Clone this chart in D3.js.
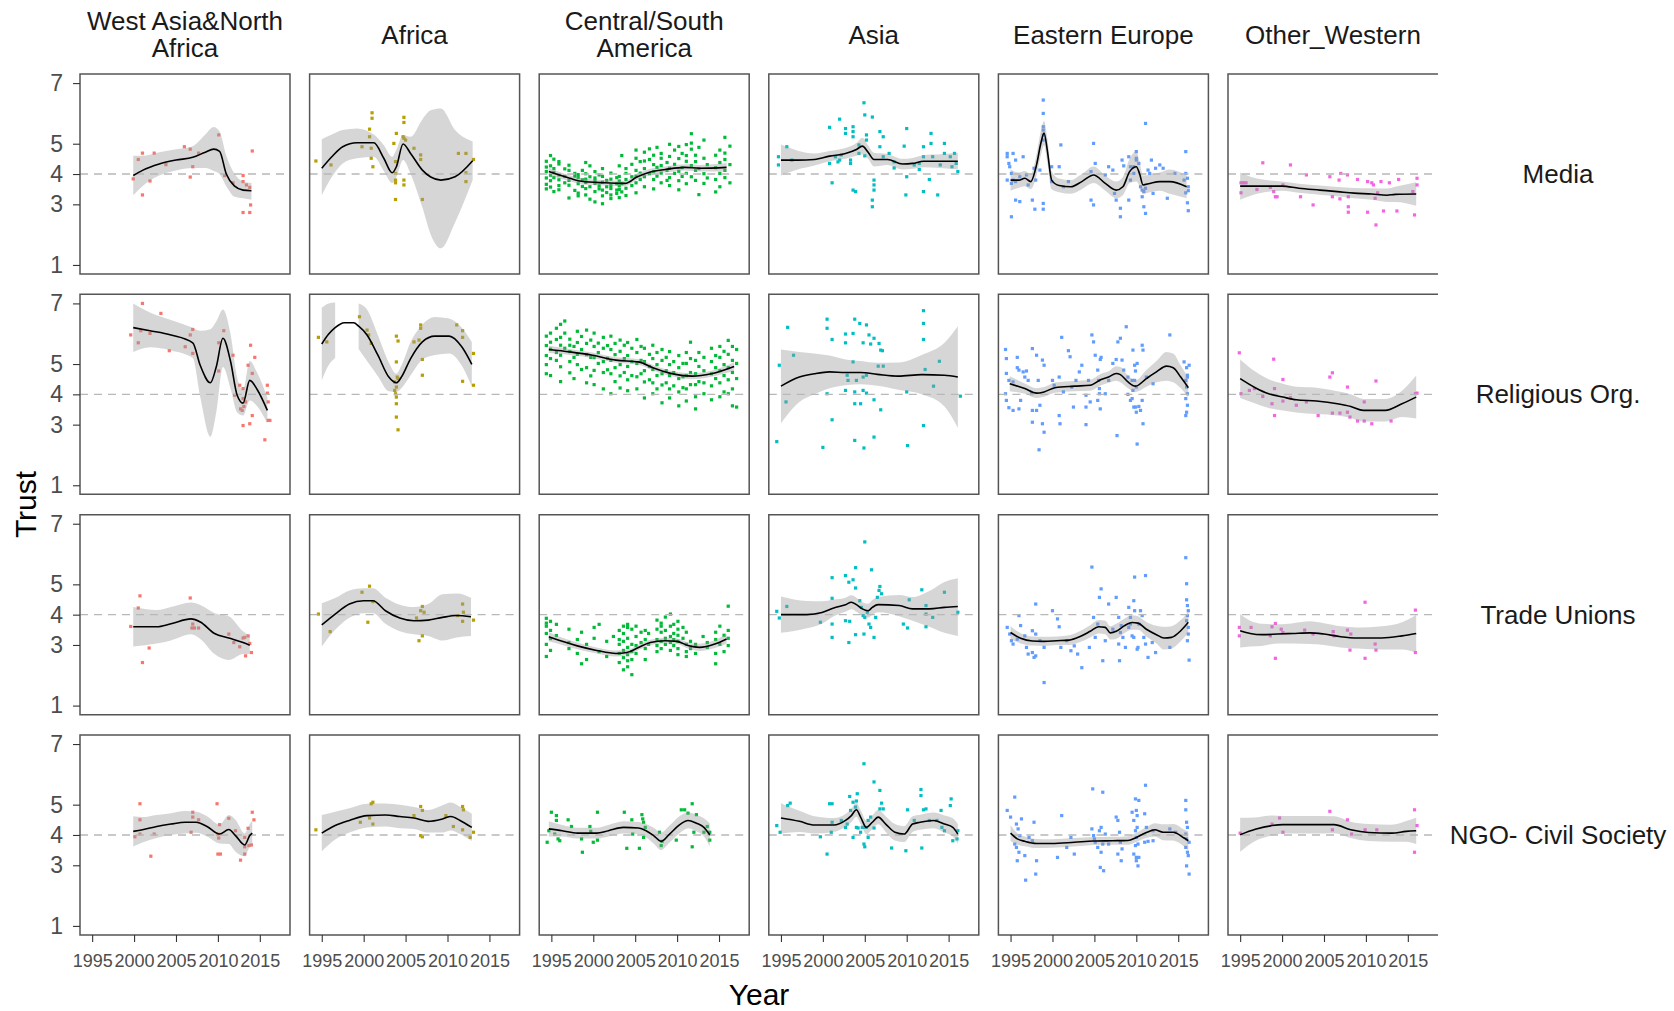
<!DOCTYPE html>
<html>
<head>
<meta charset="utf-8">
<script src="https://cdn.jsdelivr.net/npm/d3@7"></script>
<style>
  body { margin: 0; background: #fff; }
  svg { display: block; font-family: "Liberation Sans", Arial, sans-serif; }
</style>
</head>
<body>
<svg id="chart" width="1674" height="1011"></svg>
<script>
const regions = ['West Asia&North\nAfrica', 'Africa', 'Central/South\nAmerica', 'Asia', 'Eastern Europe', 'Other_Western'];
const institutions = ['Media', 'Religious Org.', 'Trade Unions', 'NGO- Civil Society'];
const yearTicks = [1995, 2000, 2005, 2010, 2015];
const trustTicks = [1, 3, 4, 5, 7];
const regionColors = ['#F8766D', '#B79F00', '#00BA38', '#00BFC4', '#619CFF', '#F564E3'];

// points: each row is [year, trust, trust, ...]; one list per region
const mediaPts = [
  [[1999.9, 3.84], [2000.5, 4.48], [2001, 4.69, 3.31], [2001.9, 3.77], [2002.4, 4.69], [2003.8, 4.31], [2006, 4.9], [2006.7, 4.82, 3.9], [2007, 4.24], [2007.7, 4.69], [2010.1, 5.29], [2010.8, 3.95], [2011.8, 3.71], [2013, 3.95, 3.75, 2.73], [2013.4, 3.64], [2013.8, 2.73, 3.56], [2013.9, 2.98], [2014.1, 4.76]],
  [[1994.3, 4.43], [1996.1, 4.3], [1999.8, 4.9], [2000.7, 5.48, 5.23], [2000.9, 4.85, 4.52], [2001, 6.02, 5.84], [2001.1, 4.24], [2003.6, 5.01], [2003.8, 4.41, 4.02, 3.8, 3.71, 3.16], [2003.9, 5.34], [2004.7, 5.23], [2004.8, 5.87, 5.7, 5.18, 3.8, 3.64], [2005, 5.12], [2006, 4.85], [2006.8, 4.63, 4.48], [2007, 3.16], [2011.3, 4.68], [2012.2, 4.68, 4.04, 3.75], [2013.1, 4.48]],
  [[1994.4, 4.42, 4.08, 3.87, 3.66, 4.23, 3.51], [1994.9, 4.61, 4.27, 3.96, 3.78, 3.57], [1995.3, 4.18, 4.49, 3.88, 3.42, 4.05], [1995.9, 4.33, 3.97, 3.81, 3.62, 4.41, 3.48], [1996.6, 3.92, 4.17, 3.71], [1997.1, 4.12, 3.79, 3.21, 4.29, 3.63], [1997.8, 3.93, 3.46, 4.02], [1998.2, 3.68, 3.98, 3.37, 3.88, 3.28], [1998.7, 3.59, 4.12, 3.81], [1999.1, 4.38, 3.83, 3.52, 3.31, 4.01, 3.72], [1999.6, 3.91, 3.58, 4.27, 3.17], [2000.2, 4.08, 3.69, 3.42, 3.87, 3.08, 3.79], [2000.7, 3.51, 3.97, 3.61], [2001.1, 3.92, 3.28, 3.73, 4.18, 3.47, 3.02], [2001.6, 3.79, 3.39, 3.58], [2002.1, 3.62, 4.03, 3.31, 3.83, 3.52, 3.19], [2002.8, 3.88, 3.47, 3.68, 3.36], [2003.1, 4.27, 3.61, 3.22, 3.92, 3.49, 3.77], [2003.4, 4.61, 3.68, 3.41], [2003.9, 4.02, 3.53, 3.82, 4.18, 3.29], [2004.6, 3.91, 4.32, 3.62], [2005.1, 4.52, 4.12, 3.71, 3.38, 4.79, 3.93], [2005.6, 4.41, 3.82, 4.03], [2006.1, 4.72, 4.18, 3.91, 3.58, 4.43], [2006.7, 4.48, 4.01, 4.83], [2007.2, 4.31, 3.82, 4.62, 4.08, 3.51], [2007.6, 4.88, 4.22, 3.93], [2008.1, 4.52, 4.03, 3.71, 4.68, 4.28], [2008.8, 4.38, 3.79, 4.12], [2009.1, 4.58, 4.19, 3.88, 4.98, 3.62], [2009.7, 4.32, 4.02, 4.79], [2010.2, 4.51, 4.09, 3.78, 4.91, 3.48], [2010.6, 4.68, 4.21, 3.92], [2011.1, 4.42, 4.97, 4.02, 3.68, 4.61], [2011.7, 5.33, 4.82, 4.28, 3.91, 5.02], [2012.2, 4.62, 4.12, 3.79, 4.41], [2012.6, 4.88, 4.18, 3.32], [2013.2, 4.52, 4.01, 3.69, 5.12], [2013.6, 4.31, 3.87], [2014.6, 4.62, 4.21, 3.82, 3.41], [2015.1, 4.79, 4.38, 4.02, 3.58], [2015.7, 5.21, 4.69, 4.12, 3.88, 4.48], [2016.3, 4.92, 4.31, 3.71]],
  [[1994.7, 4.57, 4.3], [1995.7, 4.9], [1996.3, 4.46], [2000.8, 5.54, 4.35], [2001.1, 3.71], [2001.5, 4.57], [2001.8, 4.4], [2002, 5.81, 4.46], [2002.2, 4.63], [2002.7, 5.5, 5.34], [2003.3, 4.46, 4.35], [2003.6, 5.56, 5.4, 5.23, 3.47], [2003.9, 3.42], [2004.3, 4.96, 4.68], [2004.9, 6.35], [2005, 5.95, 4.6], [2005.2, 5.29, 5.12], [2005.9, 5.88, 3.14, 2.92], [2006.1, 3.8, 3.64, 3.47], [2006.8, 5.4, 4.9], [2007.2, 5.23, 4.57], [2007.9, 4.68], [2008.5, 4.4, 4.2], [2009.7, 4.92], [2009.9, 3.31], [2010, 5.5, 3.91], [2010.9, 4.3], [2011.5, 4.35, 4.15], [2012, 4.9, 4.57, 3.42], [2012.7, 3.82], [2012.9, 5.34, 5.01], [2013.1, 4.57], [2013.7, 3.31], [2014, 4.3], [2014.5, 5.01, 4.68], [2015.2, 4.57], [2015.4, 4.24], [2015.7, 4.68], [2015.9, 4.35], [2016.1, 4.08]],
  [[1994.6, 4.68, 3.8, 4.57], [1994.8, 4.35], [1994.9, 4.24], [1995.1, 4.02, 3.69, 2.59], [1995.3, 4.68, 3.8], [1995.6, 4.46, 3.75, 3.14], [1996.1, 3.91, 3.09], [1996.5, 4.57], [1996.9, 3.97], [1997.1, 3.64], [1997.6, 3.14], [1997.8, 4.19], [1997.9, 2.84], [1998, 3.8], [1998.5, 4.13], [1998.9, 6.44, 6.0, 5.56, 5.45, 5.29, 5.12, 3.03, 2.84], [1999.9, 4.24, 3.75], [2000.8, 4.24], [2001, 4.96], [2001.3, 3.58], [2001.9, 3.75], [2004.6, 4.08, 3.14], [2004.9, 5.01, 2.98], [2005.1, 4.35], [2006.3, 3.97], [2006.7, 4.24], [2007.2, 4.13], [2007.4, 3.36], [2007.6, 3.14], [2008.1, 2.59, 2.87], [2008.3, 4.46], [2008.5, 4.27], [2009.1, 4.57, 3.14], [2009.3, 4.24, 3.8], [2009.7, 4.02, 4.24], [2010, 4.52, 4.74, 4.46], [2010.3, 4.35], [2010.5, 3.58], [2010.7, 3.47, 3.25], [2010.9, 3.42, 2.92], [2011.1, 3.53, 2.7, 5.67], [2011.4, 4.13], [2011.6, 4.02], [2011.8, 4.46], [2012, 3.36], [2012.3, 4.19], [2012.8, 4.3], [2013.2, 4.19], [2013.7, 3.2], [2014.6, 4.02], [2015.7, 3.8], [2015.9, 4.74, 4.02, 3.38], [2016.1, 3.86, 3.05], [2016.2, 3.58, 2.79, 3.45]],
  [[1995.1, 3.71, 3.38], [1995.4, 3.71], [1995.7, 3.71], [1997, 3.49], [1997.7, 4.37], [1998.6, 3.56], [1999, 3.42], [1999.2, 3.25], [1999.4, 3.25], [2000.1, 3.64], [2001, 4.3], [2002.2, 3.25], [2002.9, 3.97], [2003.7, 2.98], [2005.7, 3.91], [2006, 3.25], [2006.8, 3.8], [2006.9, 3.18], [2007, 4.02], [2007.8, 3.97], [2007.9, 3.25, 2.92, 2.74], [2009, 3.82], [2010.2, 3.75, 2.74], [2010.7, 3.71], [2010.9, 3.64], [2011.1, 3.2], [2011.2, 2.32], [2011.4, 3.38], [2011.8, 3.75], [2012.1, 2.78], [2012.8, 3.71], [2013.7, 2.78], [2013.9, 3.82], [2015.6, 3.42], [2015.8, 2.65], [2016.1, 3.86, 3.64]]
];

const religionPts = [
  [[1999.6, 5.96], [2000.5, 5.7], [2000.8, 6.1], [2001, 7.0], [2001.9, 6.01], [2003.2, 6.67], [2004.2, 5.44], [2006.1, 5.57], [2006.7, 5.96], [2007, 6.14, 5.35], [2010.1, 5.7, 4.77], [2010.7, 6.1], [2011.8, 5.29], [2012, 3.97], [2012.6, 4.3], [2013, 4.19, 3.86, 2.97], [2012.7, 3.52], [2012.9, 3.47], [2013.1, 3.6], [2013.3, 3.75], [2013.6, 4.96], [2013.8, 3.03], [2013.9, 5.62], [2014.1, 4.69, 3.3], [2014.4, 5.22], [2015.6, 2.5], [2015.9, 4.04, 4.3], [2016, 3.75, 3.14], [2016.2, 3.14]],
  [[1994.6, 5.88], [1995.6, 5.73], [1999.5, 6.56], [2000.4, 6.12], [2000.6, 5.96], [2000.9, 5.68], [2003.7, 4.41, 4.13], [2003.8, 4.02], [2003.9, 5.92, 5.07, 4.24, 3.91, 3.69, 3.25], [2004, 4.57], [2004.1, 5.76, 4.52, 2.83], [2006, 5.73], [2006.6, 5.79], [2006.8, 6.29, 6.18], [2007, 5.15, 4.63], [2011.1, 6.29], [2011.8, 6.1, 5.88, 4.43], [2013.1, 5.35, 4.3]],
  [[1994.4, 5.92, 5.61, 5.28, 4.98, 4.68], [1994.9, 6.02, 5.72, 5.49, 5.18, 4.62], [1995.6, 6.18, 5.81, 5.38, 5.12], [1996.1, 6.31, 5.88, 5.62, 5.29, 4.91, 4.42], [1996.6, 6.42, 6.02, 5.52], [1997.2, 5.82, 5.41, 5.08, 4.71, 5.62], [1997.7, 5.58, 5.22, 4.52], [1998.1, 6.08, 5.71, 5.32, 4.98], [1998.6, 5.91, 5.48, 4.82], [1999.2, 6.12, 5.68, 5.31, 4.88, 4.38], [1999.7, 5.79, 5.22, 4.61], [2000.1, 6.02, 5.58, 5.21, 4.79, 4.32], [2000.6, 5.69, 5.38, 5.02], [2001.2, 5.88, 5.52, 5.08, 4.72, 4.18], [2001.7, 5.61, 5.19, 4.81], [2002.1, 5.92, 5.48, 5.12, 4.68, 4.02], [2002.6, 5.68, 5.31, 4.88, 4.42], [2003.2, 5.79, 5.42, 4.98, 4.61, 4.21], [2003.7, 5.62, 5.18, 4.72], [2004.1, 5.71, 5.28, 4.92, 4.48, 4.12], [2004.6, 5.52, 5.08, 4.62], [2005.2, 5.81, 5.38, 5.02, 4.58, 4.18], [2005.7, 5.58, 5.12, 4.68], [2006.1, 5.52, 5.08, 4.78, 4.41, 3.88], [2006.7, 5.32, 4.92, 4.48], [2007.1, 5.62, 5.18, 4.82, 4.38, 4.02], [2007.6, 5.38, 4.98, 4.62, 4.18], [2008.2, 5.48, 5.12, 4.68, 4.31, 3.72], [2008.7, 5.22, 4.78, 4.38], [2009.1, 5.41, 4.98, 4.62, 4.18, 3.88], [2009.6, 5.08, 4.72, 4.28], [2010.2, 5.28, 4.88, 4.52, 4.08, 3.62], [2010.7, 5.02, 4.58, 4.22], [2011.1, 5.38, 5.02, 4.62, 4.18, 3.78], [2011.6, 5.72, 5.18, 4.72, 4.32], [2012.2, 5.12, 4.68, 4.32, 3.92, 3.52], [2012.6, 5.38, 4.92, 4.42], [2013.2, 5.22, 4.78, 4.38, 4.02], [2014.1, 5.52, 5.08, 4.68, 4.28, 3.82], [2014.6, 5.28, 4.88, 4.52], [2015.1, 5.58, 5.22, 4.78, 4.38, 3.92], [2015.6, 5.42, 4.98, 4.62, 4.08], [2016.1, 5.78, 5.32, 4.88, 4.48, 4.02], [2016.6, 5.58, 5.12, 4.72, 4.18, 3.62], [2017.1, 5.48, 5.02, 4.52, 3.58]],
  [[1994.5, 2.44], [1994.8, 4.96], [1995.6, 3.75], [1995.8, 6.21], [1996.5, 5.29], [2000, 2.25], [2000.5, 6.48, 6.18, 4.02], [2001.1, 5.81, 3.16], [2002.7, 5.7, 5.99, 4.13], [2002.9, 4.63], [2003, 4.46], [2003.6, 6.01, 5.07], [2003.8, 6.48, 4.08, 3.69, 2.48], [2004, 4.46], [2004.4, 6.34], [2004.5, 3.69], [2004.8, 5.7, 4.57, 4.13], [2004.9, 2.23], [2005.2, 6.29, 4.63, 4.04], [2005.5, 5.96], [2005.7, 5.66], [2006.1, 5.85, 3.82, 2.59], [2006.6, 4.93], [2006.7, 5.68], [2006.9, 5.46, 3.49], [2007.1, 5.44], [2007.2, 4.93], [2010, 4.08], [2010.1, 2.31], [2012, 6.76, 6.34, 5.81, 2.97], [2012.2, 4.82], [2013.2, 4.27], [2013.9, 5.09], [2016.4, 3.94]],
  [[1994.4, 5.48, 4.02], [1994.5, 5.18, 4.69, 3.8], [1994.8, 4.46, 3.56], [1995.3, 4.41, 3.47], [1995.8, 5.22, 4.88], [1996, 4.8, 3.52], [1996.2, 3.8], [1996.5, 4.74], [1996.7, 4.57], [1996.9, 4.77], [1997.1, 4.46], [1997.5, 4.02], [1997.6, 5.51, 3.47, 3.08], [1998.1, 5.29, 3.47], [1998.3, 4.46], [1998.4, 2.17], [1998.5, 3.64], [1998.8, 5.13, 3.03], [1999, 4.96, 2.75], [2000, 4.46], [2000.2, 4.3], [2000.8, 4.57, 3.3], [2000.9, 3.03], [2001.1, 5.88], [2001.3, 4.08], [2001.9, 5.44], [2002.1, 5.24], [2002.3, 4.24], [2002.5, 3.58], [2002.8, 4.46], [2003.2, 4.74], [2003.5, 4.96], [2004, 3.97, 3.58, 3.0], [2004.3, 4.46], [2004.5, 3.75], [2004.7, 5.96], [2004.9, 5.73], [2005.1, 5.29], [2005.4, 4.8, 3.8], [2005.5, 4.46], [2005.6, 4.19, 4.02], [2005.7, 5.15, 3.52], [2005.8, 5.22], [2006.3, 4.02], [2006.7, 4.46], [2007.2, 5.02], [2007.6, 5.15], [2007.7, 2.64], [2007.8, 5.73], [2008.1, 5.85], [2008.3, 5.13], [2008.5, 4.8], [2008.8, 6.23], [2009, 4.57, 4.0], [2009.3, 3.8], [2009.5, 4.46, 3.86], [2009.6, 4.13, 5.46], [2009.7, 3.58], [2009.8, 4.46, 4.96], [2009.9, 4.77, 3.58], [2010, 3.41, 4.24], [2010.1, 5.02, 2.36], [2010.3, 3.6], [2010.5, 3.47], [2010.7, 3.8, 5.62], [2010.8, 5.46, 3.03], [2011.2, 4.57], [2012, 4.35], [2014, 5.96], [2015.7, 5.07], [2015.9, 4.46, 3.86, 3.3], [2016, 4.88, 4.24, 3.41], [2016.1, 4.63, 4.02, 3.64, 4.57], [2016.3, 4.96]],
  [[1994.9, 5.37], [1995.1, 4.02], [1996.1, 4.13], [1996.7, 4.19], [1997.7, 3.93], [1998.8, 3.69], [1999, 5.16], [1999.1, 4.19, 3.3], [2000.1, 4.49, 3.78], [2001, 3.89], [2001.7, 3.64], [2002.9, 3.75], [2004.3, 3.3], [2005.7, 4.57], [2006, 4.71, 3.38], [2006.9, 3.38], [2007.8, 3.41, 4.24], [2008.1, 3.25], [2009, 3.12], [2009.8, 3.12, 3.75], [2010.7, 3.03], [2011.2, 4.44], [2013, 3.12], [2015.9, 4.02], [2016.1, 4.04]]
];

const unionPts = [
  [[1999.6, 3.61], [2000.5, 4.22], [2000.7, 4.62], [2001, 2.42], [2001.8, 2.9], [2006.7, 4.55], [2006.9, 3.56], [2007, 3.69], [2007.2, 3.56], [2007.7, 3.56], [2011.3, 3.36], [2011.9, 3.08], [2012.6, 2.94], [2013, 3.23], [2013.2, 3.25], [2013.3, 2.64], [2013.6, 3.3], [2013.8, 3.05], [2014, 2.75]],
  [[1994.6, 4.02], [1996, 3.44], [1999.8, 4.74], [2000.5, 3.75], [2000.7, 4.94], [2001.1, 4.43], [2006.3, 3.89], [2006.6, 3.14], [2006.8, 4.13], [2007, 4.27, 3.3], [2007.2, 4.08], [2011.2, 3.97], [2011.8, 4.35, 3.78], [2011.9, 4.08], [2013.1, 3.82]],
  [[1994.4, 3.88, 3.62, 3.38, 3.02, 2.62, 3.72], [1994.9, 3.78, 3.48, 3.21, 2.82], [1995.6, 3.68, 3.31], [1997.1, 3.52, 3.08, 2.88], [1998.1, 3.18, 2.72], [1998.6, 3.42, 2.38], [1999.2, 3.02, 2.52], [2000.1, 3.58, 3.22], [2000.7, 3.68, 2.78], [2001.6, 3.12, 2.62], [2002.4, 3.28], [2003.1, 3.48, 3.02, 2.72, 2.42, 3.18], [2003.6, 3.38, 3.12, 2.82, 2.58, 2.18, 3.62], [2004.1, 3.68, 3.22, 2.92, 2.68, 2.48, 2.28, 3.58], [2004.6, 3.52, 3.02, 2.78, 2.52, 2.02], [2005.1, 3.62, 3.28, 2.98, 2.72], [2005.7, 3.42, 3.08], [2006.2, 3.48, 3.18, 2.88, 2.52], [2006.6, 3.38, 3.02], [2007.6, 3.82, 3.52, 3.18, 2.98, 2.78], [2008.1, 3.72, 3.42, 3.12, 2.88, 3.62], [2008.6, 3.92, 3.48, 3.22, 3.02], [2009.2, 4.02, 3.62, 3.28, 3.08, 2.82], [2009.6, 3.68, 3.38, 3.18, 2.98], [2010.1, 3.78, 3.52, 3.32, 3.12, 2.88, 2.68], [2010.7, 3.58, 3.22], [2011.1, 3.42, 3.02, 2.78, 2.62], [2011.6, 3.12, 2.88], [2012.2, 3.02, 2.72], [2013.1, 3.28], [2013.6, 3.08, 2.92], [2014.6, 3.42, 3.18, 2.72, 2.38], [2015.1, 3.62, 3.02], [2015.6, 3.32, 2.78], [2016.1, 4.28, 3.48, 3.22, 2.98]],
  [[1994.5, 4.11], [1994.8, 3.89], [1995.7, 4.27], [1999.7, 3.75], [2001.1, 5.22, 4.54, 3.69, 3.25], [2002.7, 5.29, 3.8], [2003.1, 5.07, 3.08], [2003.2, 3.78], [2003.6, 5.15], [2003.9, 5.55, 3.34, 4.88], [2004.4, 4.46], [2004.6, 4.24], [2004.8, 3.97], [2004.9, 3.36], [2005, 6.4, 3.91], [2005.3, 4.08], [2005.5, 3.69], [2005.7, 3.58], [2005.8, 5.48], [2006.1, 3.25], [2006.3, 3.91], [2006.5, 4.57], [2006.7, 4.8], [2006.8, 4.93], [2007, 4.69], [2009.6, 3.69], [2010.1, 3.56], [2010.3, 4.49], [2011.8, 4.82], [2012.3, 4.3, 4.02, 3.6], [2013.1, 3.91], [2014.5, 4.74], [2016.1, 4.08]],
  [[1994.6, 3.58], [1994.9, 3.36], [1995.1, 3.14], [1995.3, 3.03], [1995.8, 3.19], [1996, 3.97], [1996.2, 3.64], [1996.7, 3.3], [1996.9, 2.92], [1997.1, 2.7], [1997.6, 2.75, 3.47], [1997.8, 2.59], [1998, 2.64, 4.35, 3.36], [1998.5, 3.14], [1999, 1.76, 2.92], [2000, 4.13], [2000.6, 3.86], [2000.8, 3.6], [2001, 2.92], [2001.7, 3.14], [2002.2, 2.81], [2002.6, 2.97], [2003, 2.7], [2003.5, 2.25], [2004.4, 2.92], [2004.7, 5.57], [2004.9, 3.91], [2005.1, 3.25], [2005.4, 3.69], [2005.6, 4.57], [2005.8, 4.85], [2006, 2.48], [2006.3, 3.14], [2006.7, 4.35], [2007.2, 3.52], [2007.6, 4.57], [2007.9, 3.91, 3.03], [2008, 2.48], [2008.1, 3.41], [2008.2, 3.64], [2008.4, 3.25], [2008.7, 2.92], [2009.1, 4.24, 3.58], [2009.3, 3.69, 3.91], [2009.5, 3.3], [2009.7, 4.46, 3.25], [2009.8, 4.13, 5.24], [2010.1, 2.86], [2010.2, 2.92], [2010.3, 3.69], [2010.5, 4.13], [2010.7, 3.97], [2010.9, 3.25], [2011.1, 3.03, 5.29], [2011.4, 2.59], [2011.9, 3.08], [2012.3, 2.75], [2014, 2.92], [2015.9, 5.88], [2016, 5.02, 4.49, 3.8], [2016.1, 4.3, 3.97, 3.14], [2016.2, 4.13, 3.58, 3.36], [2016.3, 2.5]],
  [[1994.9, 3.58, 3.3], [1996.3, 3.58], [1998.6, 3.3], [1998.8, 3.6], [1999.2, 3.71, 2.56], [1999.9, 3.52], [2000.1, 3.41], [2002.7, 3.49], [2003.7, 3.36], [2006.1, 3.44], [2006.2, 3.3], [2007.8, 3.49], [2008.1, 2.83], [2008.2, 3.36], [2009.9, 4.41, 2.56], [2011.1, 3.03], [2011.2, 2.83], [2015.9, 4.15, 2.75]]
];

const ngoPts = [
  [[2000.1, 3.94], [2000.7, 5.03, 4.5, 4.03], [2002, 3.3], [2002.4, 4.03], [2006.8, 4.09], [2007, 4.75, 4.59], [2007.7, 4.5], [2009.9, 5.03], [2010, 4.03, 3.37], [2010.1, 3.9], [2010.2, 4.34], [2010.3, 3.37], [2011.3, 4.55], [2012.1, 4.14], [2012.7, 3.17], [2013.2, 3.37, 3.61, 3.92], [2013.6, 4.22], [2013.7, 3.65], [2014, 3.67], [2014.1, 4.75], [2014.3, 4.5]],
  [[1994.3, 4.17], [1999.6, 4.42], [2000.7, 4.56], [2000.9, 5.03], [2001.1, 5.08, 4.36], [2006, 4.64], [2006.8, 4.94, 3.98], [2007, 4.81, 3.94], [2009.8, 4.64], [2010.7, 4.28], [2011.8, 4.94, 4.17], [2011.9, 4.83], [2012.7, 3.92], [2013.1, 4.09]],
  [[1994.5, 3.76], [1994.7, 4.14], [1995, 4.75], [1995.4, 4.03], [1995.6, 4.64, 4.48], [1995.8, 3.87], [1996, 3.81], [1997, 4.5], [1997.4, 4.28], [1998.6, 3.87], [1998.7, 3.43], [1999.6, 4.28], [1999.7, 4.12], [2000, 3.76], [2000.5, 3.83, 4.75], [2003.7, 4.75], [2004, 3.56], [2004.6, 4.5], [2004.7, 4.03], [2005.5, 3.56], [2005.8, 4.67], [2005.9, 4.53], [2006, 4.42, 3.92], [2006.2, 4.25], [2007.9, 4.09], [2008.1, 3.65], [2008.2, 3.79], [2009.9, 3.83], [2010.5, 4.83], [2010.9, 4.83], [2011.3, 4.72], [2011.8, 5.03, 3.61], [2012, 4.09], [2012.3, 4.67], [2013.2, 4.09], [2013.6, 4.28], [2013.9, 3.83, 4.09]],
  [[1994.5, 4.31], [1994.9, 4.09], [1995.8, 4.97], [1996.1, 5.05], [1999.7, 3.94], [2000.5, 3.37], [2000.8, 5.03], [2001, 4.09], [2001.1, 5.03, 4.42], [2002.2, 4.48], [2002.7, 4.25], [2002.9, 4.36], [2003.2, 5.27], [2003.3, 4.81], [2003.6, 5.08, 3.92], [2003.9, 4.92], [2004, 5.12, 4.25], [2004.1, 5.36], [2004.2, 4.23], [2004.5, 4.09], [2004.7, 4.25], [2004.9, 6.35, 4.25, 3.7], [2005, 3.61], [2005.2, 4.25], [2005.4, 4.48, 3.92], [2005.7, 4.59], [2006.1, 5.75, 4.23], [2006.8, 5.47, 4.86], [2007, 5.05], [2007.2, 4.86], [2008.2, 3.57], [2009.9, 3.48], [2010.1, 4.83], [2010.9, 4.48], [2011.7, 5.5, 5.3], [2011.8, 3.57], [2012, 4.83], [2012.3, 4.86], [2012.7, 4.48], [2013.6, 4.48], [2014.1, 4.81], [2014.2, 4.25], [2014.5, 4.14], [2015.2, 4.97], [2015.3, 5.19], [2015.5, 3.81], [2016, 3.87], [2016.1, 4.14]],
  [[1994.6, 4.81], [1995, 4.59], [1995.5, 5.25, 3.7], [1995.7, 4.36, 3.59], [1995.8, 3.15], [1995.9, 4.2], [1996, 3.43], [1996.1, 3.98], [1996.3, 4.53], [1996.7, 3.32], [1996.8, 2.51], [1997.2, 3.92], [1997.6, 3.81], [1997.8, 4.42], [1998, 2.71], [1998.1, 3.15], [2000.6, 3.26], [2001.1, 4.64], [2001.7, 3.59], [2002.2, 3.92], [2002.6, 3.37], [2004.7, 4.2], [2004.8, 5.52], [2004.9, 3.98], [2005, 3.87], [2005.1, 3.76], [2005.4, 3.59], [2005.6, 4.14], [2005.7, 2.93], [2005.8, 4.25, 3.43], [2006, 5.41, 3.7], [2006.1, 2.82], [2006.3, 4.03], [2006.7, 3.7], [2007.6, 4.59], [2007.8, 4.48, 3.37], [2008, 4.09], [2008.1, 3.76], [2008.2, 3.15], [2008.3, 3.54], [2009.5, 4.75], [2009.7, 4.48, 3.37], [2009.9, 5.19, 4.14, 3.65], [2010, 4.81, 3.92, 3.15, 3.26], [2010.1, 4.25, 4.64], [2010.2, 3.7, 2.98], [2010.3, 5.14, 3.26], [2011, 4.7, 3.76], [2011.1, 5.64], [2011.2, 4.25], [2011.4, 3.79], [2012, 4.14, 3.81], [2014, 4.2], [2014.7, 4.09], [2015.9, 5.14, 4.83, 4.03, 3.59], [2016, 4.42, 3.87, 2.98], [2016.1, 4.25, 3.43], [2016.2, 3.32], [2016.3, 3.76, 2.71]],
  [[1995, 4.06], [1998.8, 4.36], [1999.7, 4.56], [2000.1, 4.09], [2005.7, 4.78], [2006, 4.17], [2007.8, 4.5], [2008.3, 4.03], [2009.9, 4.17], [2011.3, 4.17], [2015.8, 4.83, 3.43], [2016.1, 4.31]]
];

// smoothed trend: [year, fit, lower, upper]
const mediaFit = [
  [[1999.9, 3.95, 3.3, 4.6], [2001, 4.12, 3.6, 4.6], [2003, 4.33, 3.95, 4.72], [2005, 4.46, 4.12, 4.82], [2007, 4.55, 4.2, 4.92], [2008.5, 4.72, 4.2, 5.3], [2009.5, 4.82, 4.1, 5.55], [2010.2, 4.75, 4.0, 5.4], [2011, 4.0, 3.6, 4.6], [2012, 3.6, 3.25, 4.0], [2013, 3.47, 3.2, 3.75], [2014, 3.45, 3.15, 3.7]],
  [[1995, 4.19, 3.3, 5.15], [1996.2, 4.57, 3.9, 5.3], [1997.5, 4.9, 4.35, 5.45], [1999.2, 5.03, 4.52, 5.5], [2001.2, 5.03, 4.57, 5.3], [2002.4, 4.52, 4.1, 4.95], [2003.4, 4.04, 3.7, 4.57], [2003.9, 4.24, 3.9, 4.8], [2004.7, 4.99, 4.46, 5.29], [2005.6, 4.68, 4.0, 5.23], [2007, 4.13, 2.9, 5.8], [2008, 3.9, 2.0, 6.1], [2009.2, 3.8, 1.55, 6.16], [2010.9, 3.91, 2.4, 5.45], [2013, 4.44, 3.8, 5.07]],
  [[1994.7, 4.08, 3.95, 4.21], [1997.2, 3.86, 3.76, 3.96], [1998.6, 3.76, 3.66, 3.86], [2001.3, 3.71, 3.62, 3.8], [2003.8, 3.69, 3.6, 3.78], [2005.2, 3.9, 3.8, 4.0], [2006.8, 4.07, 3.97, 4.17], [2008.6, 4.15, 4.05, 4.25], [2010.9, 4.22, 4.12, 4.32], [2012.7, 4.19, 4.08, 4.3], [2015.9, 4.22, 4.08, 4.36]],
  [[1995, 4.46, 3.95, 4.97], [1997, 4.46, 4.15, 4.77], [1999, 4.48, 4.28, 4.68], [2000.8, 4.59, 4.42, 4.76], [2002.7, 4.68, 4.5, 4.86], [2004, 4.81, 4.6, 5.02], [2004.7, 4.92, 4.65, 5.2], [2005.4, 4.72, 4.5, 4.95], [2006.1, 4.48, 4.25, 4.7], [2007.7, 4.48, 4.3, 4.66], [2009.5, 4.33, 4.15, 4.5], [2010.7, 4.35, 4.17, 4.53], [2012, 4.42, 4.22, 4.62], [2014, 4.42, 4.2, 4.65], [2016.1, 4.42, 4.15, 4.7]],
  [[1995, 3.8, 3.45, 4.15], [1996, 3.8, 3.55, 4.05], [1996.7, 3.86, 3.6, 4.1], [1997.4, 3.75, 3.5, 4.0], [1998.1, 4.3, 3.95, 4.65], [1998.6, 5.0, 4.6, 5.4], [1999, 5.35, 4.95, 5.75], [1999.4, 4.75, 4.35, 5.15], [1999.9, 3.8, 3.5, 4.1], [2000.8, 3.62, 3.4, 3.85], [2002.2, 3.58, 3.35, 3.8], [2003.5, 3.75, 3.5, 4.0], [2004.9, 3.97, 3.7, 4.25], [2006.3, 3.69, 3.45, 3.95], [2007.6, 3.47, 3.2, 3.75], [2008.4, 3.58, 3.3, 3.9], [2009.2, 4.08, 3.7, 4.5], [2010, 4.24, 3.75, 4.75], [2010.4, 4.0, 3.6, 4.4], [2010.8, 3.64, 3.35, 3.95], [2011.6, 3.69, 3.4, 3.98], [2012.8, 3.75, 3.45, 4.05], [2014, 3.75, 3.35, 4.15], [2016, 3.58, 3.2, 3.95]],
  [[1995, 3.6, 3.15, 4.05], [1997, 3.6, 3.35, 3.85], [2000, 3.6, 3.45, 3.75], [2002, 3.53, 3.38, 3.68], [2004.5, 3.47, 3.32, 3.62], [2006.6, 3.42, 3.27, 3.57], [2008.6, 3.37, 3.2, 3.54], [2010.7, 3.34, 3.15, 3.53], [2012.5, 3.3, 3.08, 3.52], [2013.5, 3.33, 3.08, 3.58], [2016, 3.34, 2.95, 3.73]]
];

const religionFit = [
  [[1999.9, 6.2, 5.4, 7.0], [2001.9, 6.1, 5.55, 6.7], [2004.4, 5.96, 5.45, 6.45], [2007, 5.7, 5.2, 6.2], [2007.9, 4.95, 3.9, 6.1], [2009.1, 4.38, 2.6, 6.15], [2009.8, 4.9, 3.4, 6.4], [2010.6, 5.85, 4.9, 6.8], [2011.5, 5.1, 4.2, 6.0], [2012.3, 3.97, 3.4, 4.55], [2013, 3.71, 3.3, 4.15], [2013.8, 4.46, 3.8, 5.1], [2014.7, 4.15, 3.6, 4.7], [2015.9, 3.47, 3.05, 3.9]],
  [[1995, 5.66, 4.46, 6.86], [1995.8, 5.98, 4.95, 7.0], [1996.6, 6.2, 5.2, 7.03], [1997.7, 6.36, 5.3, 7.4], [1998.8, 6.36, 5.4, 7.3], [1999.4, 6.25, 5.5, 7.0], [2000.4, 5.96, 5.1, 6.8], [2001.7, 5.29, 4.6, 5.95], [2003, 4.57, 4.1, 5.05], [2003.9, 4.38, 4.08, 4.68], [2004.5, 4.57, 4.2, 4.95], [2005.6, 5.18, 4.63, 5.73], [2007, 5.73, 5.15, 6.3], [2008.5, 5.92, 5.3, 6.55], [2010.2, 5.92, 5.35, 6.5], [2011.7, 5.57, 4.95, 6.2], [2012.9, 4.99, 4.25, 5.73]],
  [[1994.7, 5.48, 5.36, 5.6], [1997.2, 5.4, 5.3, 5.5], [1999.9, 5.29, 5.2, 5.38], [2002.7, 5.13, 5.04, 5.22], [2005.4, 5.07, 4.98, 5.16], [2007.2, 4.87, 4.78, 4.96], [2009.1, 4.7, 4.61, 4.79], [2011.8, 4.6, 4.5, 4.7], [2014.1, 4.68, 4.58, 4.78], [2016.8, 4.92, 4.78, 5.06]],
  [[1995, 4.27, 3.05, 5.48], [1997.2, 4.57, 3.75, 5.4], [1999, 4.68, 4.0, 5.35], [2000.8, 4.74, 4.2, 5.28], [2002.7, 4.72, 4.3, 5.15], [2004.5, 4.72, 4.33, 5.1], [2006.5, 4.66, 4.28, 5.04], [2009, 4.6, 4.15, 5.05], [2011.8, 4.65, 4.0, 5.3], [2014.5, 4.63, 3.6, 5.7], [2016.1, 4.57, 2.9, 6.25]],
  [[1994.9, 4.35, 4.1, 4.6], [1996.7, 4.19, 4.02, 4.36], [1998.1, 4.04, 3.88, 4.2], [1999, 4.08, 3.92, 4.24], [2000.3, 4.22, 4.05, 4.39], [2002.6, 4.27, 4.1, 4.44], [2004.5, 4.3, 4.12, 4.48], [2005.8, 4.49, 4.3, 4.68], [2006.7, 4.57, 4.38, 4.76], [2007.6, 4.69, 4.45, 4.93], [2008.1, 4.65, 4.4, 4.9], [2009, 4.41, 4.2, 4.62], [2009.9, 4.27, 4.08, 4.46], [2011.2, 4.52, 4.25, 4.8], [2012.4, 4.74, 4.4, 5.1], [2013.6, 4.93, 4.45, 5.4], [2014.4, 4.88, 4.4, 5.35], [2015.3, 4.57, 4.2, 4.95], [2016.2, 4.22, 3.9, 4.55]],
  [[1995, 4.52, 3.88, 5.15], [1996.8, 4.22, 3.7, 4.75], [1998.4, 4.02, 3.55, 4.5], [2000.1, 3.91, 3.47, 4.35], [2001.7, 3.82, 3.4, 4.25], [2004.1, 3.78, 3.35, 4.22], [2006.6, 3.69, 3.3, 4.1], [2008.2, 3.6, 3.22, 4.0], [2009.7, 3.47, 3.1, 3.85], [2012.3, 3.47, 3.1, 3.85], [2014.3, 3.69, 3.25, 4.12], [2016, 3.91, 3.2, 4.62]]
];

const unionFit = [
  [[1999.9, 3.6, 2.95, 4.25], [2002.7, 3.6, 3.05, 4.15], [2004.4, 3.7, 3.15, 4.25], [2006.8, 3.86, 3.35, 4.4], [2007.9, 3.76, 3.2, 4.32], [2009.6, 3.38, 2.7, 4.05], [2011.3, 3.23, 2.5, 3.95], [2013, 3.08, 2.7, 3.45], [2013.8, 2.99, 2.7, 3.3]],
  [[1995, 3.66, 2.95, 4.38], [1996.6, 4.02, 3.5, 4.55], [1998.3, 4.35, 3.9, 4.8], [2000, 4.46, 4.05, 4.87], [2001.1, 4.46, 4.05, 4.87], [2002.6, 4.13, 3.7, 4.56], [2004.3, 3.89, 3.45, 4.33], [2006, 3.8, 3.35, 4.25], [2007.7, 3.82, 3.3, 4.35], [2009.4, 3.91, 3.15, 4.67], [2011.1, 3.97, 3.25, 4.7], [2012.8, 3.93, 3.3, 4.56]],
  [[1994.7, 3.27, 3.12, 3.42], [1996.3, 3.12, 3.0, 3.24], [1998.1, 2.97, 2.86, 3.08], [2000.4, 2.82, 2.72, 2.92], [2002.7, 2.72, 2.62, 2.82], [2004, 2.75, 2.66, 2.84], [2005.4, 2.92, 2.83, 3.01], [2006.8, 3.08, 2.99, 3.17], [2008.6, 3.14, 3.05, 3.23], [2010, 3.12, 3.03, 3.21], [2011.3, 2.98, 2.88, 3.08], [2012.7, 2.92, 2.8, 3.04], [2014.5, 3.03, 2.9, 3.16], [2015.9, 3.2, 3.04, 3.36]],
  [[1995, 4.0, 3.4, 4.6], [1998.1, 4.0, 3.55, 4.45], [1999.9, 4.07, 3.7, 4.44], [2001.3, 4.22, 3.95, 4.5], [2002.7, 4.33, 4.1, 4.56], [2003.4, 4.41, 4.18, 4.64], [2004, 4.33, 4.1, 4.56], [2004.7, 4.19, 3.97, 4.41], [2005.4, 4.13, 3.9, 4.36], [2005.9, 4.24, 4.0, 4.48], [2006.6, 4.33, 4.08, 4.58], [2009.1, 4.3, 3.95, 4.65], [2010.7, 4.19, 3.8, 4.58], [2012.7, 4.19, 3.6, 4.78], [2014.5, 4.24, 3.4, 5.08], [2016.1, 4.27, 3.3, 5.2]],
  [[1995, 3.41, 3.2, 3.62], [1996.2, 3.22, 3.05, 3.39], [1997.6, 3.13, 2.98, 3.28], [1999, 3.12, 2.97, 3.27], [2000.5, 3.14, 3.0, 3.28], [2002, 3.16, 3.0, 3.32], [2003.3, 3.28, 3.1, 3.46], [2004.5, 3.45, 3.25, 3.65], [2005.5, 3.6, 3.38, 3.82], [2006.3, 3.58, 3.35, 3.8], [2006.9, 3.4, 3.18, 3.62], [2007.6, 3.45, 3.2, 3.7], [2008.5, 3.62, 3.38, 3.86], [2009.5, 3.74, 3.5, 3.98], [2010.2, 3.72, 3.5, 3.95], [2011.2, 3.52, 3.28, 3.76], [2012.4, 3.34, 3.05, 3.63], [2013.3, 3.23, 2.85, 3.6], [2014.2, 3.25, 2.88, 3.62], [2015.3, 3.47, 3.12, 3.82], [2016.2, 3.75, 3.4, 4.1]],
  [[1995, 3.47, 2.92, 4.02], [1996.2, 3.38, 2.95, 3.8], [1997.6, 3.34, 2.97, 3.7], [1999.5, 3.36, 3.05, 3.68], [2001.3, 3.38, 3.05, 3.72], [2003.3, 3.4, 3.03, 3.78], [2005, 3.36, 3.0, 3.72], [2007, 3.27, 2.92, 3.62], [2009, 3.23, 2.88, 3.58], [2011.9, 3.23, 2.85, 3.62], [2014.3, 3.3, 2.85, 3.75], [2016, 3.38, 2.75, 4.0]]
];

const ngoFit = [
  [[1999.9, 4.12, 3.62, 4.62], [2001, 4.17, 3.75, 4.59], [2002.7, 4.28, 3.9, 4.66], [2004.4, 4.36, 4.0, 4.72], [2006.1, 4.42, 4.05, 4.79], [2007.4, 4.42, 4.07, 4.77], [2008.7, 4.28, 3.95, 4.62], [2010.2, 4.03, 3.72, 4.35], [2011.3, 4.18, 3.7, 4.66], [2012.1, 3.98, 3.45, 4.5], [2013.2, 3.67, 3.3, 4.05], [2013.8, 3.98, 3.6, 4.36], [2014.1, 4.06, 3.65, 4.47]],
  [[1995, 4.06, 3.46, 4.66], [1996.6, 4.31, 3.85, 4.77], [1998.3, 4.48, 4.08, 4.88], [2000.4, 4.64, 4.25, 5.03], [2002.6, 4.66, 4.28, 5.04], [2004.3, 4.61, 4.22, 5.0], [2006, 4.56, 4.2, 4.92], [2007.7, 4.45, 4.08, 4.82], [2009.4, 4.53, 4.08, 4.98], [2010.4, 4.61, 4.15, 5.07], [2011.5, 4.48, 4.03, 4.93], [2012.9, 4.25, 3.8, 4.7]],
  [[1994.7, 4.2, 3.95, 4.45], [1996.3, 4.14, 3.95, 4.33], [1998.1, 4.06, 3.88, 4.24], [2000.4, 4.06, 3.88, 4.24], [2001.8, 4.14, 3.95, 4.33], [2003.6, 4.25, 4.05, 4.45], [2005.4, 4.23, 4.03, 4.43], [2006.3, 4.14, 3.92, 4.36], [2007.2, 3.98, 3.72, 4.24], [2008.1, 3.79, 3.5, 4.08], [2009.1, 4.03, 3.75, 4.31], [2010.4, 4.36, 4.08, 4.64], [2011.3, 4.48, 4.22, 4.74], [2012.3, 4.39, 4.12, 4.66], [2013.2, 4.25, 3.95, 4.55], [2013.9, 4.0, 3.62, 4.38]],
  [[1995, 4.56, 4.05, 5.05], [1997.2, 4.45, 4.1, 4.8], [1999, 4.33, 4.05, 4.62], [2001.3, 4.33, 4.1, 4.56], [2002.7, 4.48, 4.27, 4.69], [2003.4, 4.64, 4.42, 4.86], [2004, 4.83, 4.6, 5.06], [2004.5, 4.59, 4.36, 4.82], [2005.2, 4.25, 4.03, 4.47], [2005.9, 4.42, 4.2, 4.64], [2006.6, 4.59, 4.35, 4.83], [2007.5, 4.36, 4.1, 4.62], [2008.6, 4.09, 3.82, 4.36], [2009.7, 4.03, 3.77, 4.29], [2010.7, 4.36, 4.1, 4.62], [2011.6, 4.42, 4.17, 4.67], [2013.2, 4.48, 4.22, 4.74], [2014.5, 4.36, 4.08, 4.64], [2015.5, 4.25, 3.95, 4.55], [2016.1, 4.03, 3.7, 4.36]],
  [[1995, 4.06, 3.8, 4.32], [1995.8, 3.87, 3.68, 4.06], [1996.7, 3.79, 3.63, 3.95], [1998.1, 3.72, 3.57, 3.87], [1999.9, 3.72, 3.58, 3.86], [2002.6, 3.76, 3.62, 3.9], [2004.9, 3.8, 3.67, 3.93], [2007.2, 3.81, 3.68, 3.94], [2009, 3.82, 3.68, 3.96], [2010, 3.92, 3.77, 4.07], [2011.2, 4.08, 3.9, 4.26], [2012.2, 4.17, 3.95, 4.39], [2013.2, 4.09, 3.83, 4.35], [2014.4, 4.09, 3.82, 4.36], [2015.7, 3.9, 3.62, 4.18], [2016.2, 3.81, 3.5, 4.12]],
  [[1995, 4.01, 3.45, 4.57], [1996.8, 4.19, 3.8, 4.58], [1998.8, 4.31, 3.98, 4.64], [2000.1, 4.34, 4.05, 4.63], [2003.3, 4.34, 4.05, 4.63], [2006.2, 4.34, 4.06, 4.62], [2008.2, 4.17, 3.9, 4.44], [2010.3, 4.08, 3.8, 4.36], [2013.1, 4.06, 3.78, 4.34], [2014.8, 4.12, 3.78, 4.46], [2016, 4.14, 3.7, 4.58]]
];

const allPts = [mediaPts, religionPts, unionPts, ngoPts];
const allFits = [mediaFit, religionFit, unionFit, ngoFit];

const svg = d3.select('#chart');
const font = '"Liberation Sans", Arial, sans-serif';

const col = d3.scaleBand()
    .domain(d3.range(regions.length))
    .range([80, 1438])
    .paddingInner(0.0854);

const row = d3.scaleBand()
    .domain(d3.range(institutions.length))
    .range([74, 935])
    .paddingInner(0.092);

const pw = col.bandwidth();
const ph = row.bandwidth();

const x = d3.scaleLinear().domain([1993.55, 2018.6]).range([0, pw]);
const y = d3.scaleLinear().domain([0.7, 7.3]).range([ph, 0]);

const trendLine = d3.line()
    .x((d) => x(d[0]))
    .y((d) => y(d[1]))
    .curve(d3.curveMonotoneX);

// ribbon is dropped where it leaves the 1..7 limits, like the original
const ribbon = d3.area()
    .defined((d) => d[3] <= 7.05)
    .x((d) => x(d[0]))
    .y0((d) => y(d[2]))
    .y1((d) => y(d[3]))
    .curve(d3.curveMonotoneX);

const flatten = (rows) => rows.flatMap(([yr, ...vals]) => vals.map((v) => [yr, v]));

const yAxis = d3.axisLeft(y).tickValues(trustTicks).tickFormat(d3.format('d')).tickSize(7).tickPadding(10);
const xAxis = d3.axisBottom(x).tickValues(yearTicks).tickFormat(d3.format('d')).tickSize(7).tickPadding(12);

institutions.forEach((inst, r) => {
  regions.forEach((reg, c) => {
    const g = svg.append('g')
        .attr('transform', `translate(${col(c)},${row(r)})`);

    const clipId = `clip-${r}-${c}`;
    g.append('clipPath')
        .attr('id', clipId)
      .append('rect')
        .attr('width', pw)
        .attr('height', ph);

    const inner = g.append('g').attr('clip-path', `url(#${clipId})`);

    inner.selectAll('rect')
      .data(flatten(allPts[r][c]))
      .join('rect')
        .attr('x', (d) => x(d[0]) - 1.6)
        .attr('y', (d) => y(d[1]) - 1.6)
        .attr('width', 3.2)
        .attr('height', 3.2)
        .attr('fill', regionColors[c]);

    inner.append('path')
        .datum(allFits[r][c])
        .attr('d', ribbon)
        .attr('fill', '#999999')
        .attr('fill-opacity', 0.4);

    inner.append('line')
        .attr('x1', 0)
        .attr('x2', pw)
        .attr('y1', y(4))
        .attr('y2', y(4))
        .attr('stroke', '#b8b8b8')
        .attr('stroke-width', 1.3)
        .attr('stroke-dasharray', '8,6');

    inner.append('path')
        .datum(allFits[r][c])
        .attr('d', trendLine)
        .attr('fill', 'none')
        .attr('stroke', '#000')
        .attr('stroke-width', 1.6);

    // last column has no right edge on its frame
    g.append('path')
        .attr('d', c === regions.length - 1
          ? `M${pw},0H0V${ph}H${pw}`
          : `M0,0H${pw}V${ph}H0Z`)
        .attr('fill', 'none')
        .attr('stroke', '#555')
        .attr('stroke-width', 1.5);

    if (c === 0) {
      const ya = g.append('g').call(yAxis);
      ya.select('.domain').remove();
      ya.selectAll('line').attr('stroke', '#333').attr('stroke-width', 1.1);
      ya.selectAll('text')
          .attr('fill', '#4d4d4d')
          .style('font-size', '23px')
          .style('font-family', font);
    }

    if (r === institutions.length - 1) {
      const xa = g.append('g')
          .attr('transform', `translate(0,${ph})`)
          .call(xAxis);
      xa.select('.domain').remove();
      xa.selectAll('line').attr('stroke', '#333').attr('stroke-width', 1.1);
      xa.selectAll('text')
          .attr('fill', '#4d4d4d')
          .style('font-size', '18px')
          .style('font-family', font);
    }
  });
});

// column strips (top)
regions.forEach((reg, c) => {
  const lines = reg.split('\n');
  const baselines = lines.length === 1 ? [44] : [30, 57];
  lines.forEach((txt, i) => {
    svg.append('text')
        .attr('x', col(c) + pw / 2)
        .attr('y', baselines[i])
        .style('text-anchor', 'middle')
        .style('font-size', '26px')
        .attr('fill', '#1a1a1a')
        .text(txt);
  });
});

// row strips (right)
institutions.forEach((inst, r) => {
  svg.append('text')
      .attr('x', 1558)
      .attr('y', row(r) + ph / 2 + 9)
      .style('text-anchor', 'middle')
      .style('font-size', '26px')
      .attr('fill', '#1a1a1a')
      .text(inst);
});

svg.append('text')
    .attr('transform', `translate(36,${(74 + 935) / 2}) rotate(-90)`)
    .style('text-anchor', 'middle')
    .style('font-size', '30px')
    .attr('fill', '#000')
    .text('Trust');

svg.append('text')
    .attr('x', (80 + 1438) / 2)
    .attr('y', 1005)
    .style('text-anchor', 'middle')
    .style('font-size', '30px')
    .attr('fill', '#000')
    .text('Year');
</script>
</body>
</html>
